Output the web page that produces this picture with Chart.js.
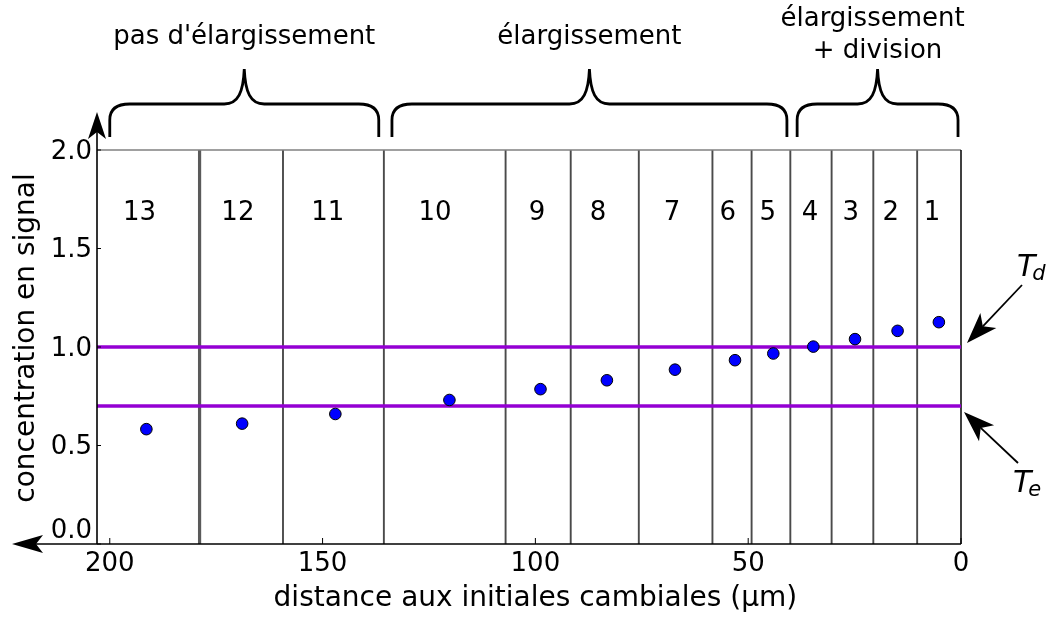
<!DOCTYPE html>
<html>
<head>
<meta charset="utf-8">
<script src="https://cdn.jsdelivr.net/npm/chart.js@4/dist/chart.umd.min.js"></script>
<style>
  html, body { margin: 0; padding: 0; background: #ffffff; }
  #wrap { width: 1049px; height: 617px; position: relative; }
</style>
</head>
<body>
<div id="wrap"><canvas id="chart"></canvas></div>
<script>
// Mean signal per cell, ordered from the oldest cell (13) to the cambial initial (1)
const cellNumbers   = ['13', '12', '11', '10', '9', '8', '7', '6', '5', '4', '3', '2', '1'];
const cellDistance  = [191.4, 168.9, 147.0, 120.2, 98.8, 83.2, 67.2, 53.1, 44.1, 34.7, 24.9, 14.9, 5.2];
const cellSignal    = [0.583, 0.611, 0.660, 0.731, 0.786, 0.831, 0.885, 0.933, 0.967, 1.002, 1.040, 1.082, 1.126];

// Cell walls (µm from the initials) and where each cell number sits
const cellWalls     = [178.9, 159.3, 135.6, 107.0, 91.7, 75.7, 58.4, 49.2, 40.1, 30.4, 20.6, 10.3];
const thickWall     = 178.9;
const cellLabelX    = [193.0, 169.9, 148.8, 123.6, 99.6, 85.3, 67.9, 54.8, 45.4, 35.5, 25.9, 16.5, 6.8];
const cellLabelY    = 1.678;

// Thresholds: division (T_d) and enlargement (T_e)
const thresholdValues = [1.0, 0.7];
const thresholdSubs   = ['d', 'e'];

// Growth zones, given as [from, to] in µm
const zoneLabels = [['pas d\'élargissement'], ['élargissement'], ['élargissement', '+ division']];
const zoneRanges = [[200, 136.8], [133.7, 40.9], [38.5, 0.7]];

// Axes
const xTicks = [200, 150, 100, 50, 0];
const yTicks = [0.0, 0.5, 1.0, 1.5, 2.0];
const xMax = 203, yMax = 2.0;
const xTitle = 'distance aux initiales cambiales (µm)';
const yTitle = 'concentration en signal';

const FONT = '"DejaVu Sans", sans-serif';

function stealthArrow(ctx, x0, y0, x1, y1, len, half, notch) {
  const dx = x1 - x0, dy = y1 - y0, d = Math.hypot(dx, dy);
  const ux = dx / d, uy = dy / d, px = -uy, py = ux;
  const bx = x1 - ux * len, by = y1 - uy * len;
  const nx = x1 - ux * (len - notch), ny = y1 - uy * (len - notch);
  ctx.beginPath();
  ctx.moveTo(x0, y0);
  ctx.lineTo(nx, ny);
  ctx.stroke();
  ctx.beginPath();
  ctx.moveTo(x1, y1);
  ctx.lineTo(bx + px * half, by + py * half);
  ctx.lineTo(nx, ny);
  ctx.lineTo(bx - px * half, by - py * half);
  ctx.closePath();
  ctx.fill();
}

function brace(ctx, xL, xR, yBottom, yMid, yTop) {
  const xc = (xL + xR) / 2;
  ctx.beginPath();
  ctx.moveTo(xL, yBottom);
  ctx.lineTo(xL, yMid + 16);
  ctx.quadraticCurveTo(xL, yMid, xL + 20, yMid);
  ctx.lineTo(xc - 20, yMid);
  ctx.bezierCurveTo(xc - 6, yMid, xc - 1, yMid - 12, xc, yTop);
  ctx.bezierCurveTo(xc + 1, yMid - 12, xc + 6, yMid, xc + 20, yMid);
  ctx.lineTo(xR - 20, yMid);
  ctx.quadraticCurveTo(xR, yMid, xR, yMid + 16);
  ctx.lineTo(xR, yBottom);
  ctx.stroke();
}

// Cell walls go under the datasets
const wallsPlugin = {
  id: 'walls',
  beforeDatasetsDraw(chart) {
    const { ctx, chartArea: a, scales: { x } } = chart;
    ctx.save();
    cellWalls.forEach(v => {
      const px = x.getPixelForValue(v);
      ctx.strokeStyle = v === thickWall ? '#5a5a5a' : '#4a4a4a';
      ctx.lineWidth = v === thickWall ? 3.2 : 1.9;
      ctx.beginPath();
      ctx.moveTo(px, a.top);
      ctx.lineTo(px, a.bottom);
      ctx.stroke();
    });
    // top frame
    ctx.strokeStyle = '#808080';
    ctx.lineWidth = 1.5;
    ctx.beginPath();
    ctx.moveTo(a.left, a.top);
    ctx.lineTo(a.right, a.top);
    ctx.stroke();
    // right frame (the cambial initials)
    ctx.strokeStyle = '#000';
    ctx.beginPath();
    ctx.moveTo(a.right, a.top);
    ctx.lineTo(a.right, a.bottom);
    ctx.stroke();
    // cell numbers
    ctx.fillStyle = '#000';
    ctx.font = '26px ' + FONT;
    ctx.textAlign = 'center';
    ctx.textBaseline = 'middle';
    const ly = chart.scales.y.getPixelForValue(cellLabelY);
    cellNumbers.forEach((n, i) => ctx.fillText(n, x.getPixelForValue(cellLabelX[i]), ly));
    ctx.restore();
  }
};

// Axes, ticks, titles and annotations
const decorPlugin = {
  id: 'decor',
  afterDraw(chart) {
    const { ctx, chartArea: a, scales: { x, y } } = chart;
    ctx.save();
    ctx.fillStyle = '#000';
    ctx.strokeStyle = '#000';
    ctx.lineWidth = 1.6;

    // y axis with arrow
    stealthArrow(ctx, a.left, a.bottom, a.left, 112, 27, 9, 7);
    // x axis with arrow pointing to larger distances
    stealthArrow(ctx, a.right, a.bottom, 12, a.bottom, 31, 9, 7);

    // ticks
    ctx.lineWidth = 1;
    yTicks.forEach(v => {
      const py = y.getPixelForValue(v);
      ctx.beginPath(); ctx.moveTo(a.left, py); ctx.lineTo(a.left + 4, py); ctx.stroke();
    });
    xTicks.forEach(v => {
      const px = x.getPixelForValue(v);
      ctx.beginPath(); ctx.moveTo(px, a.bottom); ctx.lineTo(px, a.bottom - 6); ctx.stroke();
    });

    // tick labels
    ctx.font = '26px ' + FONT;
    ctx.textAlign = 'right';
    ctx.textBaseline = 'middle';
    yTicks.forEach(v => {
      const py = y.getPixelForValue(v) + (v === 0 ? -13 : 2);
      ctx.fillText(v.toFixed(1), a.left - 5, py);
    });
    ctx.textAlign = 'center';
    xTicks.forEach(v => ctx.fillText(String(v), x.getPixelForValue(v), a.bottom + 20));

    // axis titles
    ctx.font = '28px ' + FONT;
    ctx.fillText(xTitle, x.getPixelForValue(100), 599);
    ctx.save();
    ctx.translate(27, 338);
    ctx.rotate(-Math.PI / 2);
    ctx.fillText(yTitle, 0, 0);
    ctx.restore();

    // growth zone braces and labels
    ctx.lineWidth = 2.8;
    ctx.font = '26px ' + FONT;
    zoneRanges.forEach((r, i) => {
      const xl = x.getPixelForValue(r[0]), xr = x.getPixelForValue(r[1]);
      brace(ctx, xl, xr, 137, 104, 69);
      const lines = zoneLabels[i];
      const cx = (xl + xr) / 2;
      if (lines.length === 1) {
        ctx.fillText(lines[0], cx, 37);
      } else {
        ctx.fillText(lines[0], cx - 5, 19);
        ctx.fillText(lines[1], cx, 51);
      }
    });

    // threshold annotations
    ctx.lineWidth = 1.8;
    const tdY = y.getPixelForValue(thresholdValues[0]);
    const teY = y.getPixelForValue(thresholdValues[1]);
    stealthArrow(ctx, 1022, 285, a.right + 6, tdY - 4, 31, 11, 8);
    stealthArrow(ctx, 1018, 463, a.right + 3, teY + 6, 31, 11, 8);
    const label = (tx, ty, sub) => {
      ctx.textAlign = 'left';
      ctx.textBaseline = 'alphabetic';
      ctx.font = 'italic 30px ' + FONT;
      ctx.fillText('T', tx, ty);
      const w = ctx.measureText('T').width;
      ctx.font = 'italic 21px ' + FONT;
      ctx.fillText(sub, tx + w - 3, ty + 4);
    };
    label(1017, 276, thresholdSubs[0]);
    label(1013, 492, thresholdSubs[1]);
    ctx.restore();
  }
};

const thresholdSets = thresholdValues.map(v => ({
  type: 'line',
  data: [{ x: 0, y: v }, { x: xMax, y: v }],
  borderColor: '#9400d3',
  borderWidth: 3.5,
  pointRadius: 0,
  order: 2
}));

new Chart(document.getElementById('chart'), {
  type: 'scatter',
  data: {
    datasets: [{
      data: cellDistance.map((d, i) => ({ x: d, y: cellSignal[i] })),
      backgroundColor: '#0000ff',
      borderColor: '#000000',
      borderWidth: 1,
      pointRadius: 5.8,
      order: 0
    }, ...thresholdSets]
  },
  options: {
    responsive: true,
    maintainAspectRatio: false,
    animation: false,
    events: [],
    layout: { padding: { left: 97, right: 88, top: 150, bottom: 73 } },
    plugins: { legend: { display: false }, tooltip: { enabled: false } },
    scales: {
      x: { type: 'linear', min: 0, max: xMax, reverse: true, display: false },
      y: { type: 'linear', min: 0, max: yMax, display: false }
    }
  },
  plugins: [wallsPlugin, decorPlugin]
});
</script>
</body>
</html>
